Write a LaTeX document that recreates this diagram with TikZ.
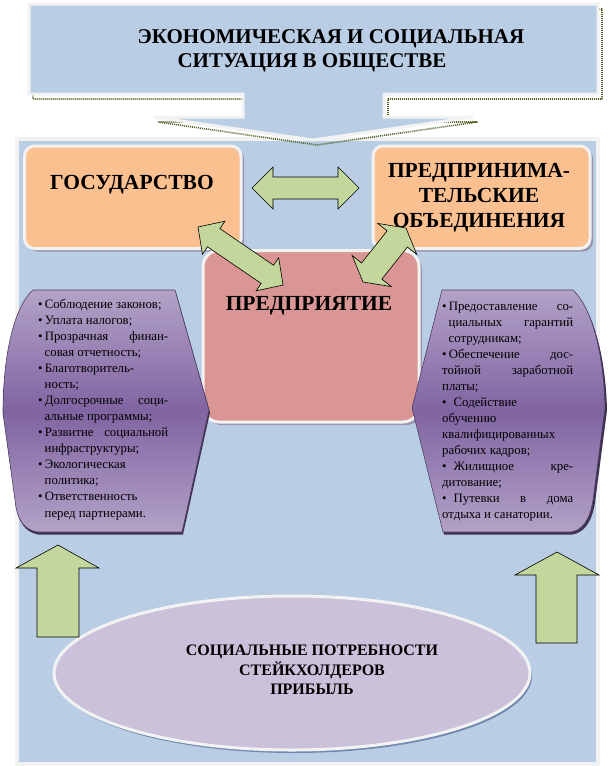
\documentclass[tikz,border=0pt]{standalone}
\usepackage{fontspec}
\setmainfont{Liberation Serif}

\definecolor{bgblue}{HTML}{B9CDE5}
\definecolor{edgegray}{HTML}{F2F2F2}
\definecolor{boxorange}{HTML}{FAC090}
\definecolor{boxrose}{HTML}{D99694}
\definecolor{arrowgreen}{HTML}{C3D69B}
\definecolor{lilac}{HTML}{B3A2C7}
\definecolor{violet}{HTML}{8064A2}
\definecolor{ellipselilac}{HTML}{CCC1DA}
\definecolor{olive}{HTML}{4F6228}
\definecolor{shadowgray}{HTML}{9A94AC}
\definecolor{shadowviolet}{HTML}{3F3151}
\definecolor{shadowblue}{HTML}{7189B0}

% double block arrow: start, angle, length, shaft half width, head half width, head length
\newcommand{\dblarrow}[6]{%
  \draw[greenarrow, shift={#1}, rotate=#2]
    (0,0) -- (#6,#5) -- (#6,#4) -- ({#3-#6},#4) -- ({#3-#6},#5) -- (#3,0)
    -- ({#3-#6},-#5) -- ({#3-#6},-#4) -- (#6,-#4) -- (#6,-#5) -- cycle;}

\begin{document}
\begin{tikzpicture}[x=1pt, y=-1pt, line join=round,
  boxedge/.style={draw=edgegray, line width=3pt},
  greenarrow/.style={fill=arrowgreen, draw=black, line width=0.6pt, line join=miter},
  purplebox/.style={draw=violet!60!black, line width=0.6pt,
    top color=lilac, bottom color=lilac, middle color=violet},
  headtext/.style={font=\fontsize{21.5}{25}\selectfont\bfseries, inner sep=0pt},
  listtext/.style={font=\fontsize{12.8}{16.05}\selectfont, inner sep=0pt,
    align=justify, anchor=north west}]

  \useasboundingbox (0,0) rectangle (608,766);

  % background panel
  \draw[fill=bgblue, draw=edgegray, line width=4pt] (17,139) rectangle (598,764);

  % callout with its dotted shadow
  \draw[olive, line width=1.6pt, dash pattern=on 1pt off 1pt, shift={(4,5)}]
    (29,4) -- (598,4) -- (598,94) -- (384,94) -- (384,117) -- (473,117)
    -- (313,140) -- (154,117) -- (243,117) -- (243,94) -- (29,94) -- cycle;
  \draw[boxedge, fill=bgblue, line join=miter]
    (29,4) -- (598,4) -- (598,94) -- (384,94) -- (384,117) -- (473,117)
    -- (313,140) -- (154,117) -- (243,117) -- (243,94) -- (29,94) -- cycle;
  \node[font=\fontsize{21}{24}\selectfont\bfseries, inner sep=0pt, align=center,
    anchor=north] (title) at (312,29)
    {\hspace*{38pt}ЭКОНОМИЧЕСКАЯ И СОЦИАЛЬНАЯ\\СИТУАЦИЯ В ОБЩЕСТВЕ};

  % state and unions
  \fill[shadowgray, rounded corners=10pt] (27.5,149) rectangle (244,251.5);
  \draw[boxedge, fill=boxorange, rounded corners=10pt] (24.5,146) rectangle (241,248.5);
  \fill[shadowgray, rounded corners=10pt] (376,149) rectangle (593,251.5);
  \draw[boxedge, fill=boxorange, rounded corners=10pt] (373,146) rectangle (590,248.5);
  \node[headtext, anchor=base] (gos) at (132,189) {ГОСУДАРСТВО};
  \node[headtext, align=center, anchor=north] (unions) at (479,163)
    {ПРЕДПРИНИМА-\\ТЕЛЬСКИЕ\\ОБЪЕДИНЕНИЯ};

  % enterprise
  \fill[shadowgray, rounded corners=16pt] (206,253.5) rectangle (422,425);
  \draw[boxedge, fill=boxrose, rounded corners=16pt] (203,250.5) rectangle (419,422);
  \node[headtext, anchor=base] (firm) at (309,310) {ПРЕДПРИЯТИЕ};

  % arrows between them
  \dblarrow{(252,188)}{0}{107}{11}{21}{21}
  \dblarrow{(198,227)}{-34.3}{103}{11}{20}{19}
  \dblarrow{(363,282)}{51.5}{69}{13}{25}{14}

  % left list
  \fill[shadowviolet] (34,292.5) -- (176,292.5) -- (210,412.5) -- (183,534.5) -- (38,534.5)
    .. controls (25,532) and (18,522) .. (16,503) -- (4,415.5)
    .. controls (4,360) and (14,310) .. (34,292.5) -- cycle;
  \shadedraw[purplebox] (33,290) -- (175,290) -- (209,410) -- (182,532) -- (37,532)
    .. controls (24,529.5) and (17,520) .. (15,500) -- (3,413)
    .. controls (3,358) and (13,308) .. (33,290) -- cycle;
  \node[listtext, text width=130pt] (duties) at (38,299) {%
    •\,Соблюдение законов;\\
    •\,Уплата налогов;\\
    •\,Прозрачная\hfill финан-\\
    \hspace*{6.5pt}совая отчетность;\\
    •\,Благотворитель-\\
    \hspace*{6.5pt}ность;\\
    •\,Долгосрочные\hfill соци-\\
    \hspace*{6.5pt}альные программы;\\
    •\,Развитие\hfill социальной\\
    \hspace*{6.5pt}инфраструктуры;\\
    •\,Экологическая\\
    \hspace*{6.5pt}политика;\\
    •\,Ответственность\\
    \hspace*{6.5pt}перед партнерами.};

  % right list
  \fill[shadowviolet] (443,292.5) -- (574,292.5) .. controls (595,312) and (606,362) .. (607,410.5)
    -- (595,502.5) .. controls (592,522) and (584,533) .. (572,534.5) -- (444,534.5)
    -- (413,410.5) -- cycle;
  \shadedraw[purplebox] (442,290) -- (573,290) .. controls (594,310) and (604,360) .. (605,408)
    -- (593,500) .. controls (590,520) and (582,530.5) .. (571,532) -- (443,532)
    -- (412,408) -- cycle;
  \node[listtext, text width=131pt] (guarantees) at (442,301.5) {%
    •\,Предоставление\hfill со-\\
    \hspace*{6.5pt}циальных\hfill гарантий\\
    \hspace*{6.5pt}сотрудникам;\\
    •\,Обеспечение\hfill дос-\\
    тойной\hfill заработной\\
    платы;\\
    •\hspace{7pt}Содействие\\
    обучению\\
    квалифицированных\\
    рабочих кадров;\\
    •\hspace{7pt}Жилищное\hfill кре-\\
    дитование;\\
    •\hspace{7pt}Путевки\hfill в\hfill дома\\
    отдыха и санатории.};

  % needs of stakeholders
  \fill[shadowblue] (294,676) ellipse [x radius=238, y radius=77];
  \draw[boxedge, fill=ellipselilac] (292,673) ellipse [x radius=238, y radius=77];
  \node[font=\fontsize{16}{19.5}\selectfont\bfseries, align=center, inner sep=0pt]
    (needs) at (312,670) {СОЦИАЛЬНЫЕ ПОТРЕБНОСТИ\\СТЕЙКХОЛДЕРОВ\\ПРИБЫЛЬ};

  % upward arrows
  \draw[greenarrow] (58,545) -- (99,568) -- (79,568) -- (79,637) -- (37,637)
    -- (37,568) -- (16,568) -- cycle;
  \draw[greenarrow] (557,552) -- (599,575) -- (577,575) -- (577,643) -- (536,643)
    -- (536,575) -- (515,575) -- cycle;

\end{tikzpicture}
\end{document}
